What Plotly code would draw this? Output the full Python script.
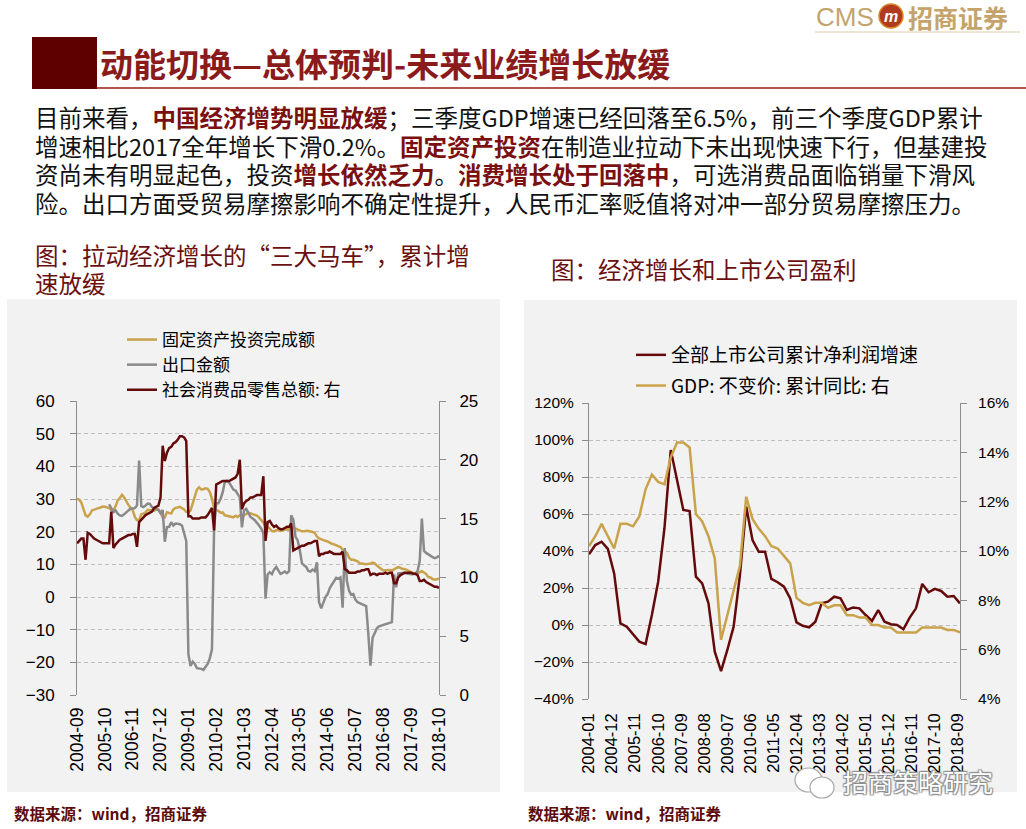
import plotly.graph_objects as go

W, H = 1026, 829
CJK = "Noto Sans CJK SC, Noto Sans, sans-serif"
LAT = "Liberation Sans, Arial, sans-serif"

GOLD = "#C9A24A"
GREY = "#8A8A8A"
MAROON = "#650A0A"
AXIS = "#8C8C8C"
GRID = "#BFBFBF"

# ---- left chart: monthly, 2004-09 .. 2018-10 (cumulative yoy, %)
fai = [
    30.0, 29.8, 29.0, 27.0,
    25.0, 24.6, 25.3, 26.5, 26.8, 27.1, 27.2, 27.4, 27.7, 27.6, 27.5, 27.2,
    26.6, 26.6, 27.7, 29.6, 30.3, 31.3, 30.5, 29.1, 28.2, 27.3, 26.6, 24.5,
    23.5, 23.5, 25.3, 25.5, 25.9, 26.7, 26.6, 26.7, 26.4, 26.9, 26.8, 25.8,
    24.3, 24.3, 25.9, 25.7, 25.6, 26.8, 27.3, 27.4, 27.6, 27.2, 26.8, 26.1,
    26.0, 26.5, 28.8, 30.5, 32.9, 33.6, 32.9, 33.0, 33.3, 33.1, 32.1, 30.1,
    27.0, 26.6, 26.4, 25.8, 25.9, 25.0, 24.9, 24.8, 24.5, 24.4, 24.9, 24.5,
    25.0, 25.0, 25.0, 25.4, 25.8, 25.6, 25.4, 25.0, 24.9, 24.3, 23.6, 22.8,
    21.5, 21.5, 20.9, 20.2, 20.1, 20.4, 20.4, 20.2, 20.5, 20.7, 20.7, 20.6,
    21.2, 21.2, 20.9, 20.6, 20.4, 20.1, 20.1, 20.3, 20.2, 20.1, 19.9, 19.6,
    18.5, 17.9, 17.6, 17.3, 17.2, 17.0, 16.6, 16.3, 16.1, 15.9, 15.6, 15.3,
    14.5, 13.9, 13.5, 12.0, 11.4, 11.4, 11.2, 10.9, 10.3, 10.2, 10.2, 10.0,
    10.2, 10.2, 10.5, 10.3, 9.6, 9.0, 8.4, 8.1, 8.2, 8.3, 8.3, 8.1,
    8.5, 8.9, 9.2, 8.9, 8.6, 8.6, 8.3, 7.8, 7.5, 7.3, 7.2, 7.2,
    7.6, 7.9, 7.5, 7.0, 6.1, 6.0, 5.5, 5.3, 5.4, 5.7,
]
exports = [
    None, None, None, None,
    None, None, None, None, None, None, None, None, None, None, None, 28.4,
    27.0, 26.0, 26.5, 25.5, 25.0, 24.8, 25.3, 26.0, 26.5, 27.0, 27.2, 27.2,
    28.0, 41.8, 27.8, 27.5, 28.0, 28.6, 28.5, 27.5, 27.1, 26.8, 26.6, 25.7,
    26.6, 16.9, 21.4, 21.5, 22.9, 21.9, 22.5, 22.4, 22.3, 21.9, 19.2, 17.2,
    -17.5, -21.1, -19.8, -20.5, -21.8, -21.8, -22.0, -22.3, -21.3, -20.5, -18.8, -16.0,
    21.0, 28.7, 28.7, 30.0, 32.0, 35.2, 35.6, 35.0, 34.0, 32.9, 32.6, 31.3,
    30.5, 21.3, 26.5, 27.0, 25.5, 24.5, 24.0, 23.5, 22.7, 21.8, 21.0, 19.5,
    -0.5, 6.9, 7.6, 7.0, 8.4, 9.2, 8.3, 7.1, 7.4, 7.8, 7.3, 7.9,
    25.0, 23.6, 18.4, 17.4, 14.4, 10.4, 9.7, 9.2, 8.0, 7.8, 8.4, 7.9,
    10.6, -1.6, -3.5, -1.9, 0.0, 0.9, 2.7, 3.8, 5.1, 5.9, 5.6, 6.0,
    -3.3, 15.0, 4.9, 1.9, 0.7, 0.9, -0.8, -1.6, -1.9, -2.2, -2.7, -2.8,
    -11.2, -21.0, -12.5, -10.8, -9.6, -9.0, -8.8, -8.5, -8.4, -8.2, -8.0, -7.7,
    6.9, 3.0, 7.2, 7.3, 7.4, 7.4, 7.2, 7.0, 7.0, 7.0, 7.2, 7.9,
    11.1, 24.0, 14.1, 13.5, 13.0, 12.6, 12.2, 11.9, 12.1, 12.6,
]
retail = [
    12.9, 13.1, 13.3, 13.3,
    11.5, 13.8, 13.7, 13.5, 13.3, 13.2, 13.1, 13.0, 12.9, 12.9, 12.9, 12.9,
    15.6, 12.5, 12.8, 13.0, 13.2, 13.3, 13.4, 13.5, 13.6, 13.6, 13.7, 13.7,
    12.6, 14.7, 14.9, 15.1, 15.3, 15.4, 15.5, 15.6, 15.9, 16.0, 16.1, 16.8,
    21.2, 19.9, 20.6, 21.0, 21.1, 21.4, 21.5, 21.7, 22.0, 22.0, 21.9, 21.6,
    15.2, 15.2, 15.0, 15.0, 15.0, 15.0, 15.1, 15.1, 15.1, 15.3, 15.6, 15.9,
    14.0, 17.9, 18.0, 18.1, 18.2, 18.2, 18.2, 18.2, 18.3, 18.4, 18.5, 18.8,
    20.0, 15.8, 16.3, 16.5, 16.6, 16.8, 16.8, 16.9, 17.0, 17.0, 17.0, 18.6,
    13.1, 14.7, 14.8, 14.5, 14.3, 14.4, 14.2, 14.1, 14.1, 14.2, 14.3, 14.3,
    14.6, 12.3, 12.4, 12.5, 12.6, 12.7, 12.7, 12.8, 12.9, 12.9, 13.0, 13.1,
    13.1, 11.8, 12.0, 12.0, 12.1, 12.1, 12.2, 12.1, 12.0, 12.0, 12.0, 12.0,
    12.2, 10.7, 10.6, 10.4, 10.4, 10.4, 10.4, 10.5, 10.5, 10.6, 10.6, 10.7,
    10.7, 10.2, 10.3, 10.3, 10.2, 10.3, 10.3, 10.3, 10.4, 10.3, 10.4, 10.4,
    9.5, 9.5, 10.0, 10.2, 10.3, 10.4, 10.4, 10.4, 10.4, 10.3, 10.3, 10.2,
    9.7, 9.7, 9.8, 9.6, 9.5, 9.4, 9.3, 9.2, 9.2, 9.1,
]
left_ticks = ["2004-09", "2005-10", "2006-11", "2007-12", "2009-01", "2010-02", "2011-03",
              "2012-04", "2013-05", "2014-06", "2015-07", "2016-08", "2017-09", "2018-10"]

# ---- right chart: quarterly
profit = [38.2, 43.2, 45.0, 41.1, 27.9, 0.9, -0.9, -5.0, -9.0, -10.3,
          5.4, 23.4, 52.3, 94.6, 77.5, 62.2, 61.6, 26.1, 22.5, 11.7,
          -14.4, -24.9, -13.5, -0.9, 27.0, 64.0, 45.9, 39.6, 39.6, 24.9,
          23.1, 20.7, 14.4, 1.4, -0.4, -1.3, 1.8, 11.7, 12.6, 15.3,
          14.4, 8.1, 9.5, 9.0, 5.4, 2.2, 8.1, 1.8, 0.4, 0.0,
          -2.3, 4.0, 9.0, 22.2, 17.7, 19.5, 18.4, 15.3, 15.7, 11.7]
gdp = [10.2, 10.6, 11.1, 10.6, 10.1, 11.1, 11.1, 11.0, 11.4, 12.5,
       13.1, 12.8, 12.7, 13.8, 14.4, 14.4, 14.2, 11.5, 11.2, 10.6,
       9.7, 6.4, 7.4, 8.5, 9.4, 12.2, 11.3, 10.9, 10.6, 10.2,
       10.1, 9.8, 9.5, 8.1, 7.9, 7.8, 7.9, 7.9, 7.7, 7.8,
       7.8, 7.4, 7.4, 7.3, 7.3, 7.0, 7.0, 6.9, 6.9, 6.7,
       6.7, 6.7, 6.7, 6.9, 6.9, 6.9, 6.9, 6.8, 6.8, 6.7]
right_ticks = ["2004-01", "2004-12", "2005-11", "2006-10", "2007-09", "2008-08", "2009-07",
               "2010-06", "2011-05", "2012-04", "2013-03", "2014-02", "2015-01", "2015-12",
               "2016-11", "2017-10", "2018-09"]

months = list(range(len(fai)))
quarters = list(range(len(profit)))


def px(x):
    return x / W


def py(y):
    return 1 - y / H


fig = go.Figure()

fig.add_trace(go.Scatter(x=months, y=fai, name="固定资产投资完成额", mode="lines",
                         line=dict(color=GOLD, width=2.5), xaxis="x", yaxis="y", legend="legend"))
fig.add_trace(go.Scatter(x=months, y=exports, name="出口金额", mode="lines",
                         line=dict(color=GREY, width=2.5), xaxis="x", yaxis="y", legend="legend"))
fig.add_trace(go.Scatter(x=months, y=retail, name="社会消费品零售总额: 右", mode="lines",
                         line=dict(color=MAROON, width=2.5), xaxis="x", yaxis="y2", legend="legend"))

fig.add_trace(go.Scatter(x=quarters, y=profit, name="全部上市公司累计净利润增速", mode="lines",
                         line=dict(color=MAROON, width=2.5), xaxis="x2", yaxis="y3",
                         legend="legend2", legendgroup="a"))
fig.add_trace(go.Scatter(x=quarters, y=gdp, name="GDP: 不变价: 累计同比: 右", mode="lines",
                         line=dict(color=GOLD, width=2.5), xaxis="x2", yaxis="y4",
                         legend="legend2", legendgroup="b"))

L_dom = [px(77), px(439)]
L_ydom = [py(695), py(401)]
R_dom = [px(589), px(960)]
R_ydom = [py(699), py(403)]
L_zero = L_ydom[0] + (L_ydom[1] - L_ydom[0]) * 30 / 90
R_zero = R_ydom[0] + (R_ydom[1] - R_ydom[0]) * 40 / 160

left_tv = list(range(0, len(fai), 13))
right_tv = [k * 11 / 3 for k in range(len(right_ticks))]

tickfont_l = dict(family=LAT, size=17, color="#000")
tickfont_r = dict(family=LAT, size=15.5, color="#000")

yaxis_common = dict(showline=True, linecolor=AXIS, linewidth=1, ticks="outside",
                    ticklen=6, tickcolor=AXIS, zeroline=False, automargin=False)

fig.update_layout(
    width=W, height=H,
    margin=dict(l=0, r=0, t=0, b=0),
    paper_bgcolor="white",
    plot_bgcolor="rgba(0,0,0,0)",
    showlegend=True,
    xaxis=dict(domain=L_dom, anchor="y", range=[0, len(fai) - 1], tickvals=left_tv,
               ticktext=left_ticks, tickangle=-90, showgrid=False, showline=False,
               zeroline=False, ticks="", tickfont=dict(family=LAT, size=17.5, color="#000"),
               ticklabelstandoff=8, automargin=False),
    xaxis3=dict(overlaying="x", anchor="free", position=L_zero, domain=L_dom,
                range=[0, len(fai) - 1], tickvals=left_tv, showticklabels=False,
                showgrid=False, zeroline=False, showline=True, linecolor=AXIS,
                ticks="outside", ticklen=6, tickcolor=AXIS),
    yaxis=dict(domain=L_ydom, anchor="x", range=[-30, 60], dtick=10, showgrid=True,
               gridcolor=GRID, griddash="4px,3px", tickfont=tickfont_l,
               ticklabelstandoff=12, **yaxis_common),
    yaxis2=dict(overlaying="y", anchor="x", side="right", range=[0, 25], dtick=5,
                showgrid=False, tickfont=tickfont_l, ticklabelstandoff=10, **yaxis_common),
    xaxis2=dict(domain=R_dom, anchor="y3", range=[0, len(profit) - 1], tickvals=right_tv,
                ticktext=right_ticks, tickangle=-90, showgrid=False, showline=False,
                zeroline=False, ticks="", tickfont=dict(family=LAT, size=16.5, color="#000"),
                ticklabelstandoff=10, automargin=False),
    xaxis4=dict(overlaying="x2", anchor="free", position=R_zero, domain=R_dom,
                range=[0, len(profit) - 1], tickvals=right_tv, showticklabels=False,
                showgrid=False, zeroline=False, showline=True, linecolor=AXIS,
                ticks="outside", ticklen=6, tickcolor=AXIS),
    yaxis3=dict(domain=R_ydom, anchor="x2", range=[-40, 120], dtick=20, ticksuffix="%",
                showgrid=True, gridcolor=GRID, griddash="4px,3px", tickfont=tickfont_r,
                ticklabelstandoff=5, **yaxis_common),
    yaxis4=dict(overlaying="y3", anchor="x2", side="right", range=[4, 16], dtick=2,
                ticksuffix="%", showgrid=False, tickfont=tickfont_r, ticklabelstandoff=8,
                **yaxis_common),
    legend=dict(x=px(122), y=py(322), xanchor="left", yanchor="top",
                bgcolor="rgba(0,0,0,0)", font=dict(family=CJK, size=17, color="#000"),
                itemwidth=30, tracegroupgap=0),
    legend2=dict(x=px(631), y=py(336), xanchor="left", yanchor="top",
                 bgcolor="rgba(0,0,0,0)", font=dict(family=CJK, size=19, color="#000"),
                 itemwidth=30, tracegroupgap=3),
)

shapes = [
    # chart panels
    dict(type="rect", xref="paper", yref="paper", x0=px(7), x1=px(500), y0=py(792), y1=py(299),
         fillcolor="#F2F2F2", line=dict(width=0), layer="below"),
    dict(type="rect", xref="paper", yref="paper", x0=px(524), x1=px(1017), y0=py(792), y1=py(300),
         fillcolor="#F2F2F2", line=dict(width=0), layer="below"),
    # header block and rule
    dict(type="rect", xref="paper", yref="paper", x0=px(32), x1=px(97), y0=py(89), y1=py(37),
         fillcolor="#5E0000", line=dict(width=0)),
    dict(type="line", xref="paper", yref="paper", x0=px(97), x1=1, y0=py(88), y1=py(88),
         line=dict(color="#B5524D", width=2)),
    # logo
    dict(type="line", xref="paper", yref="paper", x0=px(815), x1=px(1020), y0=py(32), y1=py(32),
         line=dict(color="#DCCBA8", width=1)),
    dict(type="circle", xref="paper", yref="paper", x0=px(879), x1=px(903), y0=py(28), y1=py(4),
         fillcolor="#B23A1E", line=dict(color="#D98A2B", width=1.5)),
    # watermark icon
    dict(type="circle", xref="paper", yref="paper", x0=px(795), x1=px(822), y0=py(792), y1=py(768),
         fillcolor="white", line=dict(color="#A8A8A8", width=1.2)),
    dict(type="circle", xref="paper", yref="paper", x0=px(810), x1=px(834), y0=py(798), y1=py(777),
         fillcolor="white", line=dict(color="#A8A8A8", width=1.2)),
]

RED_HL = "#7A1010"


def hl(s):
    return f"<b><span style='color:{RED_HL}'>{s}</span></b>"


para = [
    "目前来看，" + hl("中国经济增势明显放缓") + "；三季度GDP增速已经回落至6.5%，前三个季度GDP累计",
    "增速相比2017全年增长下滑0.2%。" + hl("固定资产投资") + "在制造业拉动下未出现快速下行，但基建投",
    "资尚未有明显起色，投资" + hl("增长依然乏力") + "。" + hl("消费增长处于回落中") + "，可选消费品面临销量下滑风",
    "险。出口方面受贸易摩擦影响不确定性提升，人民币汇率贬值将对冲一部分贸易摩擦压力。",
]
para_y = [117, 146, 174.5, 203]


def note(text, x, y, size, color="#000", family=CJK, **kw):
    return dict(text=text, x=px(x), y=py(y), xref="paper", yref="paper", showarrow=False,
                xanchor=kw.pop("xanchor", "left"), yanchor="middle",
                font=dict(family=family, size=size, color=color, **kw.pop("font", {})), **kw)


annotations = [
    note("CMS", 814, 17, 26, color="#C4A46C", family=LAT),
    note("<i><b>m</b></i>", 891, 16, 16, color="white", family=LAT, xanchor="center"),
    note("<b>招商证券</b>", 906, 17, 25, color="#C4A46C"),
    note("<b>动能切换—总体预判-未来业绩增长放缓</b>", 98, 63, 33, color="#8B1A1A"),
    note("图：拉动经济增长的“三大马车”，累计增", 33, 255, 23.5, color="#6B1010"),
    note("速放缓", 33, 283, 23.5, color="#6B1010"),
    note("图：经济增长和上市公司盈利", 549, 269, 23.5, color="#6B1010"),
    note("<b>数据来源：wind，招商证券</b>", 12, 813, 15.5, color="#5C0A0A"),
    note("<b>数据来源：wind，招商证券</b>", 526, 813, 15.5, color="#5C0A0A"),
    note("招商策略研究", 841, 781, 25, color="white",
         font=dict(shadow="1px 1px 1px #8c8c8c, -1px -1px 1px #8c8c8c, 1px -1px 1px #8c8c8c, -1px 1px 1px #8c8c8c")),
]
for line, y in zip(para, para_y):
    annotations.append(note(line, 33, y, 23.5, color="#111"))

fig.update_layout(shapes=shapes, annotations=annotations)

# the page body has a default 8px margin; drop it so the figure sits at the window corner
fig.write_html("out.html", config={"displayModeBar": False},
               post_script="document.body.style.margin='0px';")
